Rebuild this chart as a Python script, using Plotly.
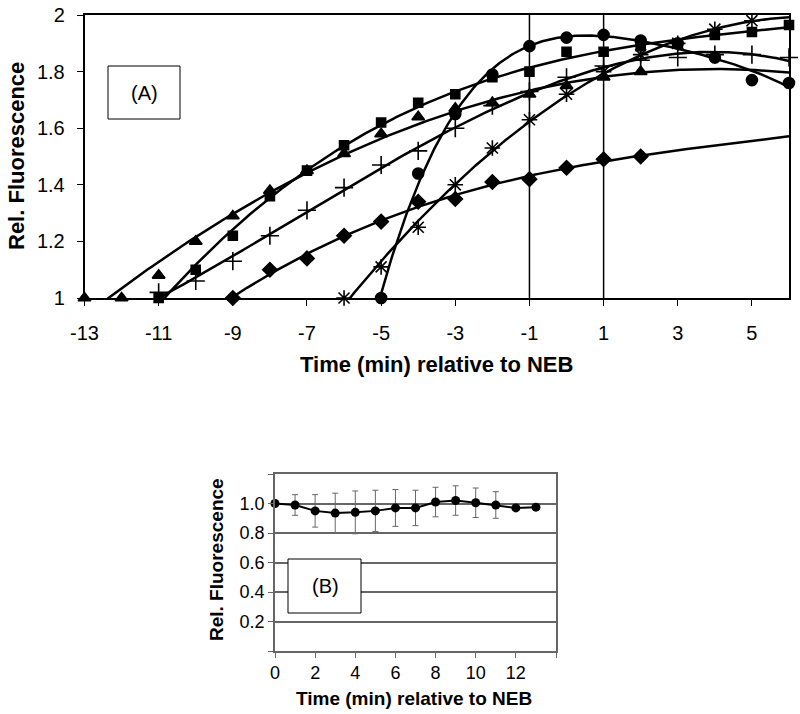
import numpy as np
import plotly.graph_objects as go

# ---------------- Panel A data ----------------
tri_x = list(range(-13, 3))
tri_y = [1.00, 1.00, 1.08, 1.20, 1.29, 1.38, 1.45, 1.51, 1.58, 1.64, 1.67, 1.69, 1.72, 1.75, 1.78, 1.80]

sq_x = list(range(-11, 7))
sq_y = [1.00, 1.10, 1.22, 1.36, 1.45, 1.54, 1.62, 1.69, 1.72, 1.78, 1.80, 1.87, 1.87, 1.89, 1.90, 1.93, 1.94, 1.965]

plus_x = list(range(-11, 7))
plus_y = [1.02, 1.06, 1.13, 1.22, 1.31, 1.39, 1.47, 1.52, 1.60, 1.68, 1.73, 1.78, 1.82, 1.84, 1.85, 1.86, 1.86, 1.85]

dia_x = list(range(-9, 3))
dia_y = [1.00, 1.10, 1.14, 1.22, 1.27, 1.34, 1.35, 1.41, 1.42, 1.46, 1.49, 1.50]

star_x = list(range(-6, 6))
star_y = [1.00, 1.11, 1.25, 1.40, 1.53, 1.63, 1.72, 1.80, 1.86, 1.90, 1.95, 1.98]

circ_x = list(range(-5, 7))
circ_y = [1.00, 1.44, 1.65, 1.79, 1.89, 1.92, 1.93, 1.91, 1.90, 1.85, 1.77, 1.76]

a_xticks = list(range(-13, 6, 2))
a_xticktext = ["-13", "-11", "-9", "-7", "-5", "-3", "-1", "1", "3", "5"]
a_yticks = [1, 1.2, 1.4, 1.6, 1.8, 2]
a_yticktext = ["1", "1.2", "1.4", "1.6", "1.8", "2"]
neb_window = [-1, 1]
trend_end = 6

# ---------------- Panel B data ----------------
b_x = list(range(0, 14))
b_y = [1.00, 0.99, 0.95, 0.935, 0.94, 0.95, 0.97, 0.97, 1.01, 1.02, 1.005, 0.99, 0.97, 0.975]
b_err = [0.0, 0.07, 0.11, 0.135, 0.145, 0.14, 0.125, 0.12, 0.10, 0.10, 0.10, 0.09, 0.0, 0.0]
b_xticks = [0, 2, 4, 6, 8, 10, 12, 14]
b_xticktext = ["0", "2", "4", "6", "8", "10", "12", ""]
b_yticks = [0, 0.2, 0.4, 0.6, 0.8, 1.0, 1.2]
b_yticktext = ["", "0.2", "0.4", "0.6", "0.8", "1.0", ""]

FONT = "Liberation Sans, Arial, sans-serif"
W, H = 800, 714

fig = go.Figure()

series = [
    (tri_x, tri_y, "triangle-up", 11, 2),
    (sq_x, sq_y, "square", 9, 3),
    (plus_x, plus_y, "cross-thin-open", 13, 3),
    (dia_x, dia_y, "diamond", 11, 3),
    (star_x, star_y, "asterisk-open", 13, 2),
    (circ_x, circ_y, "circle", 11, 4),
]

for xs, ys, sym, size, deg in series:
    coef = np.polyfit(xs, ys, deg)
    xf = np.linspace(min(xs) - 0.5, trend_end, 300)
    fig.add_trace(go.Scatter(x=xf, y=np.polyval(coef, xf), mode="lines",
                             line=dict(color="black", width=2.5),
                             xaxis="x", yaxis="y", showlegend=False, hoverinfo="skip"))
    fig.add_trace(go.Scatter(x=xs, y=ys, mode="markers", cliponaxis=False,
                             marker=dict(symbol=sym, size=size, color="black",
                                         line=dict(color="black", width=1.6)),
                             xaxis="x", yaxis="y", showlegend=False))

# Panel B
fig.add_trace(go.Scatter(x=b_x, y=b_y, mode="lines+markers", cliponaxis=False,
                         line=dict(color="black", width=2),
                         marker=dict(symbol="circle", size=9, color="black"),
                         error_y=dict(type="data", array=b_err, visible=True,
                                      color="#666666", thickness=1, width=3),
                         xaxis="x2", yaxis="y2", showlegend=False))

# vertical NEB window lines in panel A
for xv in neb_window:
    fig.add_shape(type="line", xref="x", yref="y", x0=xv, x1=xv, y0=1, y1=2,
                  line=dict(color="black", width=1.5), layer="below")


def px(x):
    return x / W


def py(y):
    return 1 - y / H


def label(text, x, y, size, angle=0):
    fig.add_annotation(text=text, xref="paper", yref="paper", x=px(x), y=py(y),
                       xanchor="center", yanchor="middle", textangle=angle,
                       showarrow=False, font=dict(family=FONT, size=size, color="black"))


# label boxes
fig.add_shape(type="rect", xref="paper", yref="paper",
              x0=px(108), x1=px(180), y0=py(119), y1=py(66),
              line=dict(color="black", width=1), fillcolor="white")
label("(A)", 144, 93, 20)
fig.add_shape(type="rect", xref="paper", yref="paper",
              x0=px(288), x1=px(361), y0=py(613), y1=py(559),
              line=dict(color="black", width=1), fillcolor="white")
label("(B)", 325, 586, 20)

# axis titles
label("<b>Rel. Fluorescence</b>", 16, 156, 22, -90)
label("<b>Time (min) relative to NEB</b>", 436, 364, 22)
label("<b>Rel. Fluorescence</b>", 216, 560, 19, -90)
label("<b>Time (min) relative to NEB</b>", 414, 698, 19)

fig.update_layout(
    width=W, height=H,
    margin=dict(l=0, r=0, t=0, b=0, pad=0),
    paper_bgcolor="white", plot_bgcolor="white",
    font=dict(family=FONT, color="black"),
    hovermode=False,
    xaxis=dict(domain=[px(84.5), px(789)], range=[-13, 6], tickvals=a_xticks,
               ticktext=a_xticktext, automargin=False,
               showgrid=False, zeroline=False, showline=True, linecolor="black",
               linewidth=1.5, mirror=True, ticks="outside", ticklen=6, tickcolor="black",
               tickfont=dict(size=20), ticklabelstandoff=10, anchor="y"),
    yaxis=dict(domain=[py(298), py(15)], range=[1, 2.0001], tickvals=a_yticks,
               ticktext=a_yticktext, automargin=False,
               showgrid=False, zeroline=False, showline=True, linecolor="black",
               linewidth=1.5, mirror=True, ticks="outside", ticklen=6, tickcolor="black",
               tickfont=dict(size=20), ticklabelstandoff=8, anchor="x"),
    xaxis2=dict(domain=[px(275), px(556)], range=[0, 14], tickvals=b_xticks,
                ticktext=b_xticktext, automargin=False,
                showgrid=False, zeroline=False, showline=True, linecolor="#666666",
                linewidth=1.5, mirror=True, ticks="outside", ticklen=5, tickcolor="#666666",
                tickfont=dict(size=18), anchor="y2"),
    yaxis2=dict(domain=[py(651), py(474)], range=[0, 1.2], tickvals=b_yticks,
                ticktext=b_yticktext, automargin=False,
                showgrid=True, gridcolor="#666666", gridwidth=1.5,
                zeroline=False, showline=True, linecolor="#666666",
                linewidth=1.5, mirror=True, ticks="outside", ticklen=5, tickcolor="#666666",
                tickfont=dict(size=18), anchor="x2"),
)

fig.write_html("out.html", config={"displayModeBar": False},
               post_script="document.body.style.margin='0';document.body.style.padding='0';")
